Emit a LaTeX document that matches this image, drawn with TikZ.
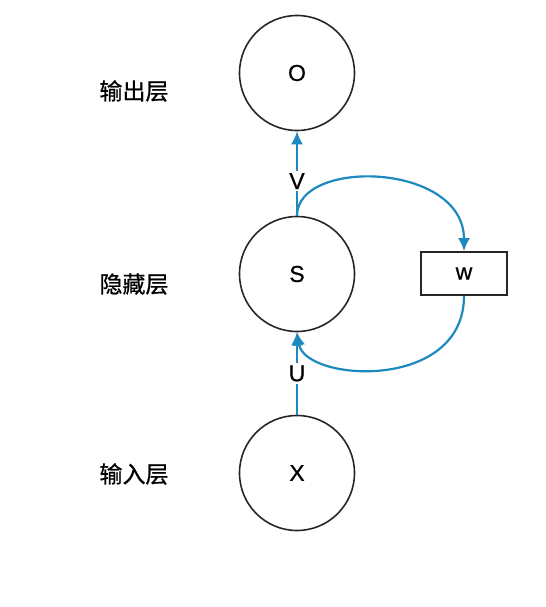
\documentclass[tikz,border=0pt]{standalone}
\usepackage{fontspec}
\setmainfont{Liberation Sans}[FakeBold=0.6]
\newfontfamily\cjk{Noto Sans CJK SC}[FakeBold=0.8]
\usetikzlibrary{arrows.meta}
\definecolor{arrowblue}{RGB}{28,138,190}
\tikzset{
  neuron/.style={circle, draw=black!85, line width=1.6bp, minimum size=115bp, inner sep=0pt, font=\fontsize{23bp}{26bp}\selectfont},
  layerlabel/.style={font=\cjk\fontsize{23bp}{26bp}\selectfont, inner sep=0pt},
  wbox/.style={rectangle, draw=black!85, line width=1.6bp, minimum width=86bp, minimum height=43bp, inner sep=0pt, font=\fontsize{23bp}{26bp}\selectfont},
  conn/.style={draw=arrowblue, line width=2.2bp, -{Latex[length=13bp,width=12bp]}},
  wlabel/.style={fill=white, inner sep=2bp, font=\fontsize{23bp}{26bp}\selectfont}
}
\begin{document}
\begin{tikzpicture}[x=1bp,y=-1bp]
\useasboundingbox (0,0) rectangle (546,607);
\node[neuron] (O) at (297,73) {O};
\node[neuron] (S) at (297,274) {S};
\node[neuron] (X) at (297,473) {X};
\node[wbox] (w) at (464,273.5) {w};
\node[layerlabel] (l1) at (134,91) {输出层};
\node[layerlabel] (l2) at (134,284) {隐藏层};
\node[layerlabel] (l3) at (134,474) {输入层};
\draw[conn] (S.north) -- node[wlabel, pos=0.41] {V} (O.south);
\draw[conn] (X.north) -- node[wlabel] {U} (S.south);
\draw[conn] (S.north) .. controls (297,158) and (464,162) .. (w.north);
\draw[conn] (w.south) .. controls (464,392) and (305,382) .. (S.south);
\end{tikzpicture}
\end{document}
